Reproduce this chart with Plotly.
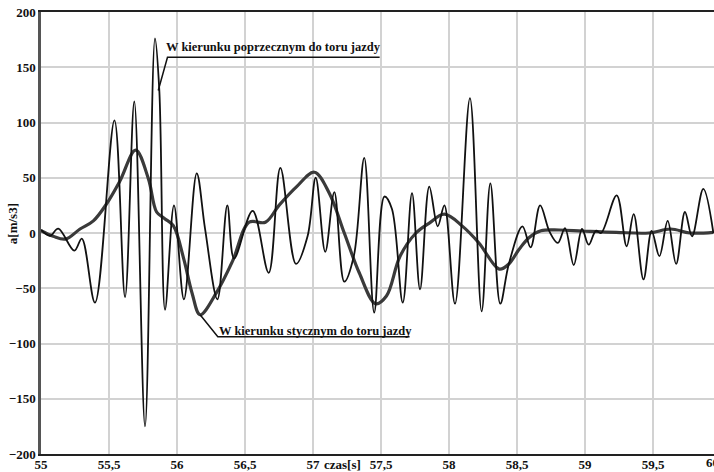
import plotly.graph_objects as go

# ---- data ----
t_poprzeczny = [55.00, 55.066, 55.127, 55.245, 55.30, 55.397, 55.54, 55.618, 55.686, 55.765,
                55.838, 55.87, 55.912, 55.978, 56.051, 56.145, 56.206, 56.297, 56.37, 56.42,
                56.556, 56.674, 56.76, 56.875, 56.96, 57.02, 57.09, 57.157, 57.23, 57.30,
                57.377, 57.45, 57.525, 57.58, 57.66, 57.728, 57.787, 57.855, 57.917, 57.966,
                58.044, 58.154, 58.24, 58.304, 58.377, 58.44, 58.54, 58.60, 58.67, 58.74,
                58.80, 58.853, 58.917, 58.978, 59.027, 59.08, 59.118, 59.233, 59.306, 59.358,
                59.43, 59.49, 59.547, 59.608, 59.67, 59.735, 59.787, 59.87, 59.944]
a_poprzeczny = [3, -2.5, 4, -16, -5, -63, 102, -58, 119, -175,
                176, 129, -69.5, 25, -60, 54, 4, -60, 25, -23,
                20, -36, 59, -28, -3, 50, -17, 37, -44, -21,
                68, -72, 33, 22, -63, 36, -51, 42, 6, 25,
                -64, 122, -71, 45, -64, -28, 6, -13, 25, 1,
                -9, 4.5, -29, 3.6, -10.6, 2, 0, 34, -12, 17,
                -42, 2, -21, 11, -28, 19, -3, 40, 0]

t_styczny = [55.00, 55.09, 55.18, 55.287, 55.385, 55.48, 55.58, 55.696, 55.79, 55.85,
             55.91, 55.973, 56.05, 56.11, 56.17, 56.29, 56.41, 56.53, 56.65, 56.75,
             56.88, 57.01, 57.12, 57.23, 57.34, 57.46, 57.54, 57.64, 57.757, 57.855,
             57.966, 58.10, 58.22, 58.37, 58.44, 58.517, 58.59, 58.676, 58.81, 58.98,
             59.23, 59.47, 59.63, 59.77, 59.944]
a_styczny = [2, -3, -5.5, 3.6, 11, 26, 47, 75, 49, 19,
             13, 6.6, -23.6, -54, -74, -54, -25, 9.7, 9.7, 25,
             42, 55, 36, 0, -36, -64, -57, -21, 0, 9,
             17, 6, -9, -32.7, -28, -14.5, -4, 2, 2.7, 1.8,
             0.6, 0, 3.6, 0, 0.6]

x_ticks = [55, 55.5, 56, 56.5, 57, 57.5, 58, 58.5, 59, 59.5]
x_ticktext = ["55", "55,5", "56", "56,5", "57", "57,5", "58", "58,5", "59", "59,5"]
x_last_tick = 60
x_last_text = "60"
y_ticks = [-200, -150, -100, -50, 0, 50, 100, 150, 200]

X0, X1 = 55, 59.9485
Y0, Y1 = -200, 200

label_poprzeczny = "W kierunku poprzecznym do toru jazdy"
label_styczny = "W kierunku stycznym do toru jazdy"
# leader lines: (target point, knee, end of underline)
lead_poprzeczny = [(55.862, 129), (55.93, 159), (57.49, 159)]
lead_styczny = [(56.17, -74), (56.30, -93.8), (57.71, -93.8)]

FONT = "Liberation Serif"

fig = go.Figure()
fig.add_trace(go.Scatter(x=t_styczny, y=a_styczny, mode="lines",
                         line=dict(color="#3a3a3a", width=3.2, shape="spline", smoothing=1.0),
                         name=label_styczny, showlegend=False))
fig.add_trace(go.Scatter(x=t_poprzeczny, y=a_poprzeczny, mode="lines",
                         line=dict(color="#111111", width=1.8, shape="spline", smoothing=1.0),
                         name=label_poprzeczny, showlegend=False))

for pts in (lead_poprzeczny, lead_styczny):
    path = "M {} {} L {} {} L {} {}".format(pts[0][0], pts[0][1], pts[1][0], pts[1][1],
                                            pts[2][0], pts[2][1])
    fig.add_shape(type="path", path=path, xref="x", yref="y",
                  line=dict(color="#111111", width=1.5))

tickfont = dict(family=FONT, size=13, color="#111111", weight="bold")
labelfont = dict(family=FONT, size=12.5, color="#111111", weight="bold")

annotations = [
    dict(text=label_poprzeczny, x=lead_poprzeczny[1][0], y=lead_poprzeczny[1][1],
         xref="x", yref="y", xanchor="left", yanchor="bottom", xshift=-3, yshift=1,
         showarrow=False, font=labelfont),
    dict(text=label_styczny, x=lead_styczny[1][0], y=lead_styczny[1][1],
         xref="x", yref="y", xanchor="left", yanchor="bottom", xshift=-1, yshift=-3,
         showarrow=False, font=labelfont),
    dict(text="a[m/s3]", x=0, y=8, xref="paper", yref="y", xanchor="center", xshift=-29,
         textangle=-90, showarrow=False, font=tickfont),
    dict(text="czas[s]", x=57.22, y=0, xref="x", yref="paper", yanchor="top", yshift=-1,
         showarrow=False, font=tickfont),
    dict(text=x_last_text, x=(x_last_tick - X0) / (X1 - X0), y=0, xref="paper", yref="paper",
         yanchor="top", yshift=1, showarrow=False, font=tickfont),
]

fig.update_layout(
    width=714, height=472,
    margin=dict(l=41, r=0, t=12, b=18, pad=0),
    paper_bgcolor="white", plot_bgcolor="white",
    showlegend=False,
    annotations=annotations,
    xaxis=dict(range=[X0, X1], tickvals=x_ticks, ticktext=x_ticktext,
               showgrid=True, gridcolor="#d2d2d2", gridwidth=1.5, zeroline=False,
               showline=True, linecolor="#222222", linewidth=2, mirror=True,
               ticks="", tickfont=tickfont, automargin=False, ticklabelstandoff=-3),
    yaxis=dict(range=[Y0, Y1], tickvals=y_ticks,
               showgrid=True, gridcolor="#d2d2d2", gridwidth=1.5, zeroline=False,
               showline=True, linecolor="#555555", linewidth=2.5, mirror=False,
               ticks="", tickfont=tickfont, automargin=False),
)

fig.write_html("out.html", config={"displayModeBar": False},
               post_script="document.body.style.margin='0';document.body.style.overflow='hidden';")
